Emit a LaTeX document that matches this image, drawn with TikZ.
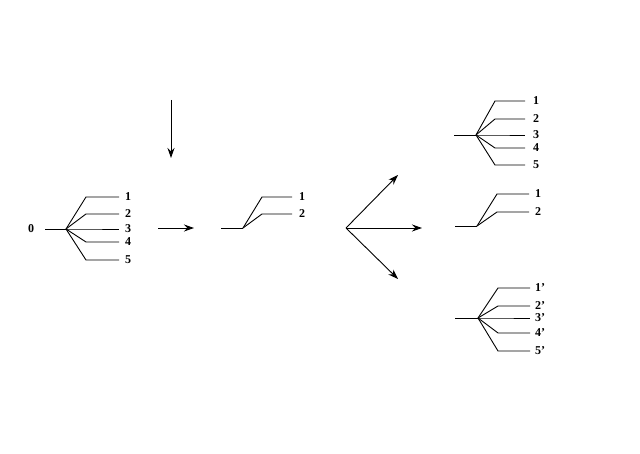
\documentclass[tikz,border=0pt]{standalone}
\usepackage{fontspec}
\setmainfont{Liberation Serif}
\usetikzlibrary{arrows.meta}
\begin{document}
\begin{tikzpicture}[x=1pt,y=-1pt,
  br/.style={line width=0.9pt},
  lab/.style={anchor=west,inner sep=0pt,font=\fontsize{12}{12}\selectfont\bfseries},
  arr/.style={line width=0.9pt,-{Stealth[length=10pt,width=7pt]}}]
\useasboundingbox (0,0) rectangle (640,454);
% group 1
\node[lab,anchor=center] (l0) at (31,229) {0};
\coordinate (s1) at (45,229);
\coordinate (j1) at (66,229);
\draw[br] (s1) -- (j1);
\foreach \y/\t [count=\i] in {197/1,214/2,229/3,242/4,260/5}{
  \node[lab] (ga\i) at (125,\y) {\t};
  \coordinate (ea\i) at (86,\y);
  \coordinate (fa\i) at (119,\y);
  \draw[br] (j1) -- (ea\i) -- (fa\i);
}
% arrows
\coordinate (h1) at (158,228);
\coordinate (h2) at (194,228);
\draw[arr] (h1) -- (h2);
\coordinate (v1) at (171,100);
\coordinate (v2) at (171,158);
\draw[arr] (v1) -- (v2);
% group 2
\coordinate (s2) at (221,228);
\coordinate (j2) at (243,228);
\draw[br] (s2) -- (j2);
\foreach \y/\t [count=\i] in {197/1,214/2}{
  \node[lab] (gb\i) at (299,\y) {\t};
  \coordinate (eb\i) at (262,\y);
  \coordinate (fb\i) at (292,\y);
  \draw[br] (j2) -- (eb\i) -- (fb\i);
}
% splitting arrows
\coordinate (o) at (346,228);
\coordinate (t1) at (398,175);
\coordinate (t2) at (422,228);
\coordinate (t3) at (398,279);
\draw[arr] (o) -- (t1);
\draw[arr] (o) -- (t2);
\draw[arr] (o) -- (t3);
% group 3
\coordinate (s3) at (454,135);
\coordinate (j3) at (476,135);
\draw[br] (s3) -- (j3);
\foreach \y/\t [count=\i] in {101/1,119/2,135/3,148/4,165/5}{
  \node[lab] (gc\i) at (533,\y) {\t};
  \coordinate (ec\i) at (495,\y);
  \coordinate (fc\i) at (525,\y);
  \draw[br] (j3) -- (ec\i) -- (fc\i);
}
% group 4
\coordinate (s4) at (455,226);
\coordinate (j4) at (477,226);
\draw[br] (s4) -- (j4);
\foreach \y/\t [count=\i] in {194/1,212/2}{
  \node[lab] (gd\i) at (535,\y) {\t};
  \coordinate (ed\i) at (497,\y);
  \coordinate (fd\i) at (529,\y);
  \draw[br] (j4) -- (ed\i) -- (fd\i);
}
% group 5
\coordinate (s5) at (455,318);
\coordinate (j5) at (478,318);
\draw[br] (s5) -- (j5);
\foreach \y/\t [count=\i] in {288/1',306/2',318/3',333/4',351/5'}{
  \node[lab] (ge\i) at (535,\y) {\t};
  \coordinate (ee\i) at (498,\y);
  \coordinate (fe\i) at (530,\y);
  \draw[br] (j5) -- (ee\i) -- (fe\i);
}
\end{tikzpicture}
\end{document}
